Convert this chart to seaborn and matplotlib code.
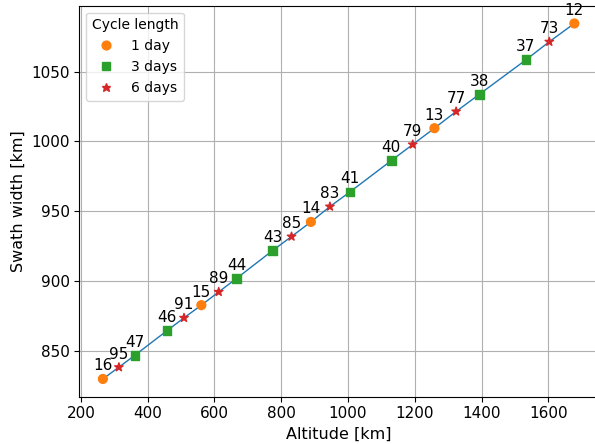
import matplotlib
matplotlib.use("Agg")
import matplotlib.pyplot as plt
import seaborn as sns
import pandas as pd

# altitude [km], swath width [km], revolutions per cycle, cycle length
altitude = [266, 314, 362, 458, 509, 561, 613, 666, 774, 831, 889,
            946, 1006, 1130, 1194, 1259, 1324, 1393, 1533, 1603, 1678]
swath = [829.7, 838.1, 846.7, 864.3, 873.5, 882.6, 892.1, 901.7, 921.7, 931.8, 942.3,
         953.3, 963.8, 986.3, 997.8, 1009.5, 1021.5, 1033.7, 1058.5, 1071.5, 1084.6]
revs = [16, 95, 47, 46, 91, 15, 89, 44, 43, 85, 14,
        83, 41, 40, 79, 13, 77, 38, 37, 73, 12]
cycle = ['1 day', '6 days', '3 days', '3 days', '6 days', '1 day', '6 days', '3 days', '3 days', '6 days', '1 day',
         '6 days', '3 days', '3 days', '6 days', '1 day', '6 days', '3 days', '3 days', '6 days', '1 day']
cycle_order = ['1 day', '3 days', '6 days']

df = pd.DataFrame({'alt': altitude, 'swath': swath, 'revs': revs, 'cycle': cycle})

fig = plt.figure(figsize=(5.95, 4.44), dpi=100)
ax = fig.add_axes([79.3 / 595, 47.3 / 444, 518.6 / 595, 391.0 / 444])

sns.lineplot(data=df, x='alt', y='swath', color='tab:blue', lw=1, ax=ax, sort=True, zorder=2)
sns.scatterplot(data=df, x='alt', y='swath', hue='cycle', style='cycle',
                hue_order=cycle_order, style_order=cycle_order,
                palette={'1 day': 'tab:orange', '3 days': 'tab:green', '6 days': 'tab:red'},
                markers={'1 day': 'o', '3 days': 's', '6 days': '*'},
                s=40, edgecolor='face', linewidth=1, ax=ax, zorder=3)

for a, w, r in zip(altitude, swath, revs):
    ax.annotate(str(r), (a, w), xytext=(0, 4), textcoords='offset points',
                ha='center', va='bottom', fontsize=11)

ax.grid(True, color='#b0b0b0', lw=0.8)
ax.set_axisbelow(True)
ax.tick_params(labelsize=11)
ax.set_xlabel('Altitude [km]', fontsize=11.5)
ax.set_ylabel('Swath width [km]', fontsize=11.5)
ax.legend(title='Cycle length', loc='upper left', fontsize=10, title_fontsize=10)

plt.savefig('out.png', dpi=100)
